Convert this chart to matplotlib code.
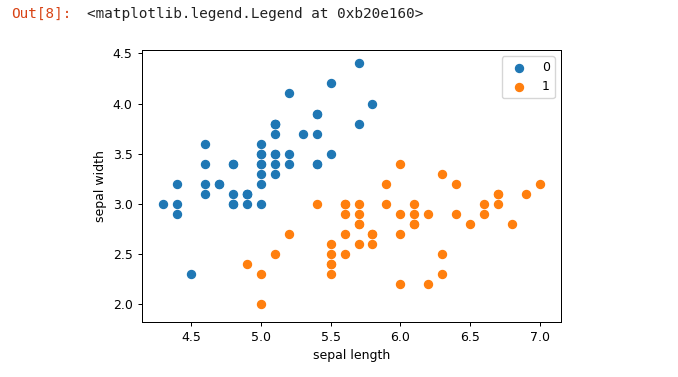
import matplotlib
matplotlib.use("Agg")
import matplotlib.pyplot as plt
import numpy as np

# iris, first 100 rows: sepal length / sepal width, class 0 and 1
len0 = [5.1, 4.9, 4.7, 4.6, 5.0, 5.4, 4.6, 5.0, 4.4, 4.9, 5.4, 4.8, 4.8, 4.3, 5.8, 5.7, 5.4,
        5.1, 5.7, 5.1, 5.4, 5.1, 4.6, 5.1, 4.8, 5.0, 5.0, 5.2, 5.2, 4.7, 4.8, 5.4, 5.2, 5.5,
        4.9, 5.0, 5.5, 4.9, 4.4, 5.1, 5.0, 4.5, 4.4, 5.0, 5.1, 4.8, 5.1, 4.6, 5.3, 5.0]
wid0 = [3.5, 3.0, 3.2, 3.1, 3.6, 3.9, 3.4, 3.4, 2.9, 3.1, 3.7, 3.4, 3.0, 3.0, 4.0, 4.4, 3.9,
        3.5, 3.8, 3.8, 3.4, 3.7, 3.6, 3.3, 3.4, 3.0, 3.4, 3.5, 3.4, 3.2, 3.1, 3.4, 4.1, 4.2,
        3.1, 3.2, 3.5, 3.1, 3.0, 3.4, 3.5, 2.3, 3.2, 3.5, 3.8, 3.0, 3.8, 3.2, 3.7, 3.3]
len1 = [7.0, 6.4, 6.9, 5.5, 6.5, 5.7, 6.3, 4.9, 6.6, 5.2, 5.0, 5.9, 6.0, 6.1, 5.6, 6.7, 5.6,
        5.8, 6.2, 5.6, 5.9, 6.1, 6.3, 6.1, 6.4, 6.6, 6.8, 6.7, 6.0, 5.7, 5.5, 5.5, 5.8, 6.0,
        5.4, 6.0, 6.7, 6.3, 5.6, 5.5, 5.5, 6.1, 5.8, 5.0, 5.6, 5.7, 5.7, 6.2, 5.1, 5.7]
wid1 = [3.2, 3.2, 3.1, 2.3, 2.8, 2.8, 3.3, 2.4, 2.9, 2.7, 2.0, 3.0, 2.2, 2.9, 2.9, 3.1, 3.0,
        2.7, 2.2, 2.5, 3.2, 2.8, 2.5, 2.8, 2.9, 3.0, 2.8, 3.0, 2.9, 2.6, 2.4, 2.4, 2.7, 2.7,
        3.0, 3.4, 3.1, 2.3, 3.0, 2.5, 2.6, 3.0, 2.6, 2.3, 2.7, 3.0, 2.9, 2.9, 2.5, 2.8]

plt.rcParams["font.size"] = 9
plt.rcParams["axes.linewidth"] = 0.72
plt.rcParams["xtick.major.size"] = 3.15
plt.rcParams["ytick.major.size"] = 3.15
plt.rcParams["xtick.major.width"] = 0.72
plt.rcParams["ytick.major.width"] = 0.72

fig = plt.figure(figsize=(6.78, 3.77), dpi=100)
ax = fig.add_axes([0.2094, 0.1467, 0.618, 0.7207])

ax.scatter(len0, wid0, s=33, label="0")
ax.scatter(len1, wid1, s=33, label="1")
ax.set_xlim(4.149, 7.150)
ax.set_ylim(1.827, 4.533)
ax.set_xlabel("sepal length")
ax.set_ylabel("sepal width")
ax.legend(loc="upper right")

# notebook output line above the figure
fig.text(0.016, 0.982, "Out[8]:", color="#d84315", family="DejaVu Sans Mono",
         fontsize=10.4, va="top")
fig.text(0.129, 0.982, "<matplotlib.legend.Legend at 0xb20e160>", color="#222222",
         family="DejaVu Sans Mono", fontsize=10.4, va="top")

fig.savefig("out.png", dpi=100)
